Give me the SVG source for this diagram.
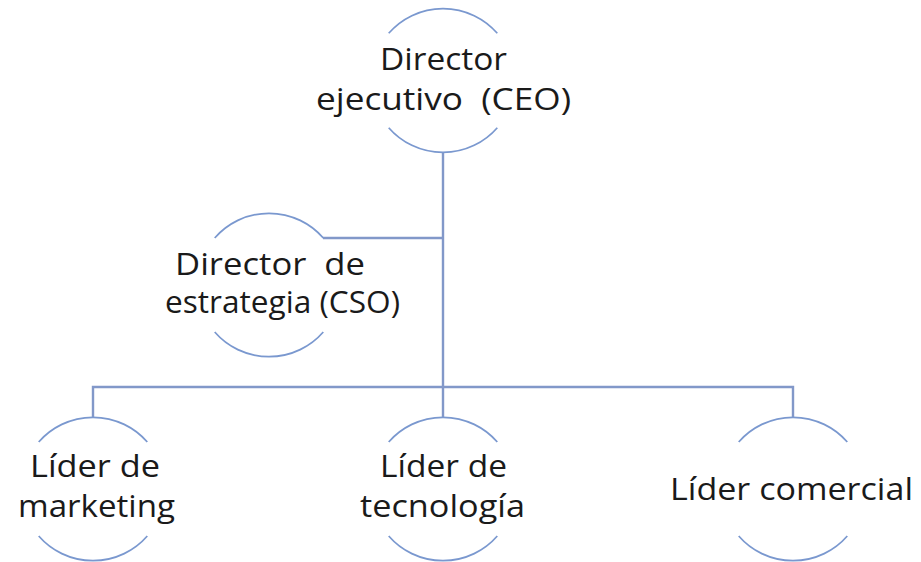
<svg xmlns="http://www.w3.org/2000/svg" width="921" height="562" viewBox="0 0 921 562">
<style>
.arc{fill:none;stroke:#7a98cf;stroke-width:1.7}
.con{fill:none;stroke:#8298c9;stroke-width:2.4}
.t{font-family:"Open Sans","Noto Sans","Liberation Sans",sans-serif;font-size:31px;fill:#1a1a1a;text-anchor:middle}
</style>
<rect width="921" height="562" fill="#ffffff"/>
<g id="connectors">
<path class="con" d="M443 152.5V417M323 238H443M93 417V387H793V417"/>
</g>
<g id="ceo">
<path class="arc" d="M388.7 33.3A72 72 0 0 1 497.3 33.3M388.7 127.7A72 72 0 0 0 497.3 127.7"/>
<text class="t" x="443.5" y="70" textLength="127" lengthAdjust="spacingAndGlyphs">Director</text>
<text class="t" x="443.5" y="110" textLength="255" lengthAdjust="spacingAndGlyphs" xml:space="preserve">ejecutivo  (CEO)</text>
</g>
<g id="cso">
<path class="arc" d="M214.7 238A72 72 0 0 1 323.3 238M214.7 332A72 72 0 0 0 323.3 332"/>
<text class="t" x="270" y="275" textLength="190" lengthAdjust="spacingAndGlyphs" xml:space="preserve">Director  de</text>
<text class="t" x="282.5" y="313" textLength="235" lengthAdjust="spacingAndGlyphs">estrategia (CSO)</text>
</g>
<g id="marketing">
<path class="arc" d="M38.7 442A72 72 0 0 1 147.3 442M38.7 536A72 72 0 0 0 147.3 536"/>
<text class="t" x="95" y="477" textLength="130" lengthAdjust="spacingAndGlyphs">Líder de</text>
<text class="t" x="96.5" y="517" textLength="157" lengthAdjust="spacingAndGlyphs">marketing</text>
</g>
<g id="tecnologia">
<path class="arc" d="M388.7 442A72 72 0 0 1 497.3 442M388.7 536A72 72 0 0 0 497.3 536"/>
<text class="t" x="443.5" y="477" textLength="127" lengthAdjust="spacingAndGlyphs">Líder de</text>
<text class="t" x="442.5" y="517" textLength="165" lengthAdjust="spacingAndGlyphs">tecnología</text>
</g>
<g id="comercial">
<path class="arc" d="M738.7 442A72 72 0 0 1 847.3 442M738.7 536A72 72 0 0 0 847.3 536"/>
<text class="t" x="791.5" y="500" textLength="243" lengthAdjust="spacingAndGlyphs">Líder comercial</text>
</g>
</svg>
